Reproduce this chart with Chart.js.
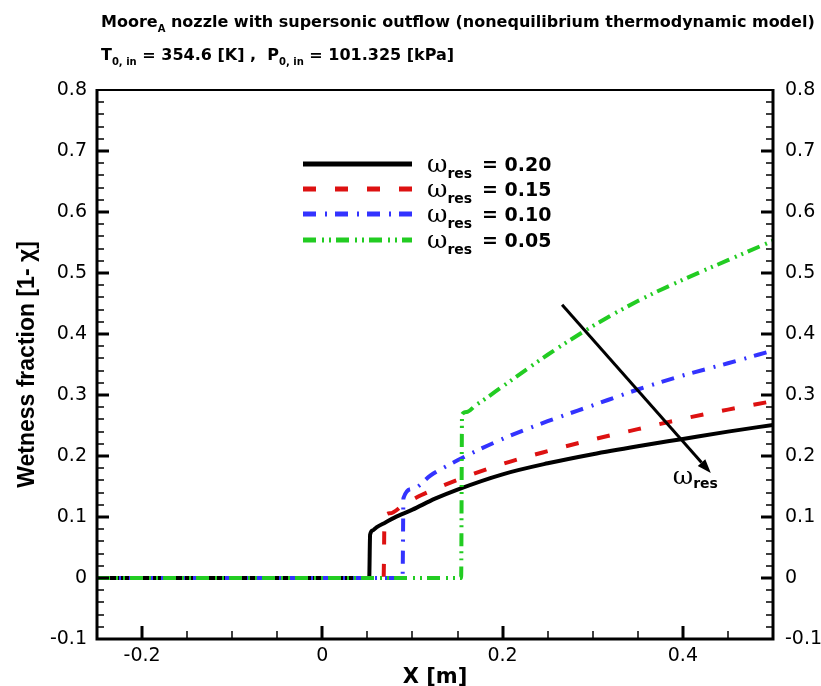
<!DOCTYPE html>
<html>
<head>
<meta charset="utf-8">
<script src="https://cdn.jsdelivr.net/npm/chart.js@4.4.1/dist/chart.umd.min.js"></script>
<style>
  html, body { margin: 0; padding: 0; background: #fff; }
  #wrap { width: 821px; height: 686px; }
</style>
</head>
<body>
<div id="wrap"><canvas id="chart" width="821" height="686"></canvas></div>
<script>
// wetness fraction along the nozzle axis, one curve per omega_res
const xRes20 = [-0.25, 0.052, 0.053, 0.056, 0.06, 0.07, 0.08, 0.1, 0.125, 0.15, 0.2, 0.25, 0.3, 0.35, 0.4, 0.45, 0.5];
const yRes20 = [0, 0, 0.071, 0.078, 0.083, 0.091, 0.099, 0.112, 0.13, 0.145, 0.17, 0.188, 0.203, 0.216, 0.228, 0.24, 0.251];

const xRes15 = [-0.25, 0.068, 0.069, 0.075, 0.09, 0.11, 0.13, 0.15, 0.2, 0.25, 0.3, 0.35, 0.4, 0.45, 0.5];
const yRes15 = [0, 0, 0.1, 0.106, 0.12, 0.136, 0.149, 0.161, 0.187, 0.208, 0.227, 0.244, 0.261, 0.276, 0.29];

const xRes10 = [-0.25, 0.089, 0.09, 0.1, 0.12, 0.15, 0.2, 0.25, 0.3, 0.35, 0.4, 0.45, 0.5];
const yRes10 = [0, 0, 0.131, 0.146, 0.168, 0.193, 0.228, 0.257, 0.283, 0.309, 0.332, 0.352, 0.373];

const xRes05 = [-0.25, 0.154, 0.155, 0.16, 0.17, 0.18, 0.2, 0.25, 0.3, 0.35, 0.4, 0.45, 0.5];
const yRes05 = [0, 0, 0.268, 0.272, 0.283, 0.293, 0.314, 0.366, 0.413, 0.454, 0.489, 0.521, 0.553];

const resLabels = ['0.20', '0.15', '0.10', '0.05'];

const xTicks = [-0.2, 0, 0.2, 0.4];
const xTickLabels = ['-0.2', '0', '0.2', '0.4'];
const yTicks = [-0.1, 0, 0.1, 0.2, 0.3, 0.4, 0.5, 0.6, 0.7, 0.8];
const yTickLabels = ['-0.1', '0', '0.1', '0.2', '0.3', '0.4', '0.5', '0.6', '0.7', '0.8'];

// arrow showing the trend with decreasing omega_res (data coordinates)
const arrowFrom = [0.266, 0.448];
const arrowTo = [0.431, 0.172];

const SANS = '"DejaVu Sans", "Liberation Sans", Arial, sans-serif';

function pts(xs, ys) {
  return xs.map((x, i) => ({ x: x, y: ys[i] }));
}

const series = [
  { data: pts(xRes20, yRes20), color: '#000000', dash: [], order: 3 },
  { data: pts(xRes15, yRes15), color: '#dd1111', dash: [13, 19], order: 2 },
  { data: pts(xRes10, yRes10), color: '#3333ff', dash: [13, 9, 2, 8], order: 1 },
  { data: pts(xRes05, yRes05), color: '#22cc22', dash: [13, 6, 2, 5, 2, 5], order: 0 },
];

// text with subscript pieces: [text, font, dy]
function drawRich(ctx, x, y, parts) {
  parts.forEach(([t, font, dy]) => {
    ctx.font = font;
    ctx.fillText(t, x, y + (dy || 0));
    x += ctx.measureText(t).width;
  });
  return x;
}

const frameAndDecor = {
  id: 'frameAndDecor',
  afterDatasetsDraw(chart) {
    const ctx = chart.ctx;
    const { left, right, top, bottom } = chart.chartArea;
    const xs = chart.scales.x, ys = chart.scales.y;
    ctx.save();
    ctx.strokeStyle = '#000';
    ctx.lineCap = 'butt';

    // frame
    ctx.lineWidth = 2;
    ctx.beginPath(); ctx.moveTo(left, top); ctx.lineTo(right, top); ctx.stroke();
    ctx.lineWidth = 3;
    ctx.beginPath();
    ctx.moveTo(left, top - 1); ctx.lineTo(left, bottom);
    ctx.lineTo(right, bottom); ctx.lineTo(right, top - 1);
    ctx.stroke();

    // x ticks, pointing up from the bottom edge
    for (let v = -0.25; v <= 0.5 + 1e-9; v += 0.05) {
      const major = xTicks.some(t => Math.abs(t - v) < 1e-6);
      const px = Math.round(xs.getPixelForValue(v));
      if (px <= left + 1 || px >= right - 1) continue;
      ctx.lineWidth = major ? 3 : 1.5;
      ctx.beginPath();
      ctx.moveTo(px, bottom);
      ctx.lineTo(px, bottom - (major ? 13 : 8));
      ctx.stroke();
    }

    // y ticks on both side edges
    for (let v = -0.1; v <= 0.8 + 1e-9; v += 0.02) {
      const major = yTicks.some(t => Math.abs(t - v) < 1e-6);
      const py = Math.round(ys.getPixelForValue(v));
      if (py >= bottom - 1 || py <= top + 1) continue;
      const len = major ? 12 : 7;
      ctx.lineWidth = major ? 3 : 1.5;
      ctx.beginPath();
      ctx.moveTo(left, py); ctx.lineTo(left + len, py);
      ctx.moveTo(right, py); ctx.lineTo(right - len, py);
      ctx.stroke();
    }

    // trend arrow
    const ax0 = xs.getPixelForValue(arrowFrom[0]), ay0 = ys.getPixelForValue(arrowFrom[1]);
    const ax1 = xs.getPixelForValue(arrowTo[0]), ay1 = ys.getPixelForValue(arrowTo[1]);
    const ang = Math.atan2(ay1 - ay0, ax1 - ax0);
    const headLen = 14, headW = 5;
    ctx.lineWidth = 3;
    ctx.beginPath();
    ctx.moveTo(ax0, ay0);
    ctx.lineTo(ax1 - headLen * Math.cos(ang), ay1 - headLen * Math.sin(ang));
    ctx.stroke();
    ctx.fillStyle = '#000';
    ctx.beginPath();
    ctx.moveTo(ax1, ay1);
    ctx.lineTo(ax1 - headLen * Math.cos(ang) + headW * Math.sin(ang), ay1 - headLen * Math.sin(ang) - headW * Math.cos(ang));
    ctx.lineTo(ax1 - headLen * Math.cos(ang) - headW * Math.sin(ang), ay1 - headLen * Math.sin(ang) + headW * Math.cos(ang));
    ctx.closePath();
    ctx.fill();

    ctx.textBaseline = 'alphabetic';
    ctx.textAlign = 'left';
    drawRich(ctx, ax1 - 38, ay1 + 11, [
      ['ω', '25px "DejaVu Serif", serif', 0],
      ['res', 'bold 14px ' + SANS, 4],
    ]);

    // legend
    const legendY = [164, 189, 214, 240];
    series.forEach((s, i) => {
      const y = legendY[i];
      ctx.strokeStyle = s.color;
      ctx.lineWidth = 5;
      ctx.setLineDash(s.dash);
      ctx.beginPath();
      ctx.moveTo(303, y); ctx.lineTo(412, y);
      ctx.stroke();
      ctx.setLineDash([]);
      ctx.fillStyle = '#000';
      drawRich(ctx, 427, y + 8, [
        ['ω', '25px "DejaVu Serif", serif', 0],
        ['res', 'bold 14px ' + SANS, 6],
      ]);
      ctx.font = 'bold 19px ' + SANS;
      ctx.fillText('= ' + resLabels[i], 482, y + 7);
    });

    // heading lines
    ctx.fillStyle = '#000';
    const big = 'bold 16px ' + SANS, sub = 'bold 10px ' + SANS;
    drawRich(ctx, 101, 27, [
      ['Moore', big, 0], ['A', sub, 5],
      [' nozzle with supersonic outflow (nonequilibrium thermodynamic model)', big, 0],
    ]);
    drawRich(ctx, 101, 60, [
      ['T', big, 0], ['0, in', sub, 5], [' = 354.6 [K] ,  P', big, 0],
      ['0, in', sub, 5], [' = 101.325 [kPa]', big, 0],
    ]);
    ctx.restore();
  },
};

const tickFont = { family: SANS, size: 19 };

new Chart(document.getElementById('chart'), {
  type: 'scatter',
  data: {
    datasets: series.map((s, i) => ({
      label: 'ω_res = ' + resLabels[i],
      data: s.data,
      showLine: true,
      borderColor: s.color,
      borderWidth: 4,
      borderDash: s.dash,
      pointRadius: 0,
      cubicInterpolationMode: 'monotone',
      order: s.order,
      yAxisID: 'y',
    })),
  },
  options: {
    responsive: false,
    animation: false,
    devicePixelRatio: 1,
    layout: { padding: { top: 90, left: 0, right: 0, bottom: 0 } },
    plugins: {
      legend: { display: false },
      tooltip: { enabled: false },
    },
    scales: {
      x: {
        type: 'linear',
        min: -0.25,
        max: 0.5,
        afterBuildTicks: (axis) => { axis.ticks = xTicks.map(v => ({ value: v })); },
        afterFit: (axis) => { axis.height = 47; },
        grid: { display: false, drawTicks: false },
        border: { display: false },
        ticks: {
          color: '#000',
          font: tickFont,
          padding: 6,
          maxRotation: 0,
          autoSkip: false,
          callback: (v) => xTickLabels[xTicks.findIndex(t => Math.abs(t - v) < 1e-6)],
        },
        title: {
          display: true,
          text: 'X [m]',
          color: '#000',
          font: { family: SANS, size: 21, weight: 'bold' },
          padding: { top: 0, bottom: -4 },
        },
      },
      y: {
        type: 'linear',
        position: 'left',
        min: -0.1,
        max: 0.8,
        afterBuildTicks: (axis) => { axis.ticks = yTicks.map(v => ({ value: v })); },
        afterFit: (axis) => { axis.width = 97; },
        grid: { display: false, drawTicks: false },
        border: { display: false },
        ticks: {
          color: '#000',
          font: tickFont,
          padding: 10,
          autoSkip: false,
          callback: (v) => yTickLabels[yTicks.findIndex(t => Math.abs(t - v) < 1e-6)],
        },
        title: {
          display: true,
          text: 'Wetness fraction [1- χ]',
          color: '#000',
          font: { family: '"Liberation Sans", Arial, sans-serif', size: 23, weight: 'bold' },
          padding: { top: 14, bottom: 0 },
        },
      },
      y2: {
        type: 'linear',
        position: 'right',
        display: true,
        min: -0.1,
        max: 0.8,
        afterBuildTicks: (axis) => { axis.ticks = yTicks.map(v => ({ value: v })); },
        afterFit: (axis) => { axis.width = 48; },
        grid: { display: false, drawTicks: false },
        border: { display: false },
        ticks: {
          color: '#000',
          font: tickFont,
          padding: 12,
          autoSkip: false,
          callback: (v) => yTickLabels[yTicks.findIndex(t => Math.abs(t - v) < 1e-6)],
        },
      },
    },
  },
  plugins: [frameAndDecor],
});
</script>
</body>
</html>
